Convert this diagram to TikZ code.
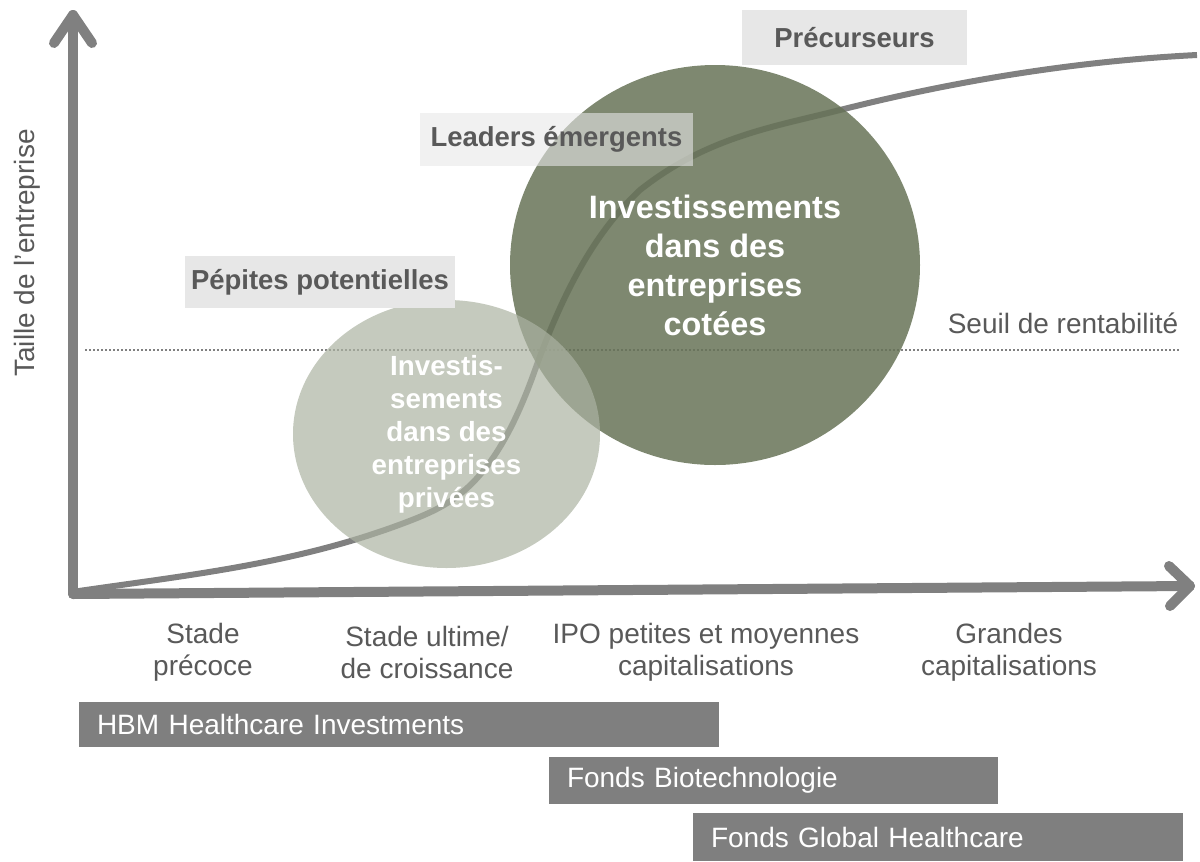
\documentclass[tikz,border=0pt]{standalone}
\usepackage{fontspec}
\setmainfont{Liberation Sans}
\usetikzlibrary{shapes.geometric}
\definecolor{axgray}{RGB}{128,128,128}
\definecolor{bargray}{RGB}{127,127,127}
\definecolor{boxgray}{RGB}{231,231,231}
\definecolor{txtgray}{RGB}{89,89,89}
\definecolor{darkgreen}{RGB}{103,115,87}
\definecolor{lightgreen}{RGB}{172,179,162}
\tikzset{
  axisline/.style={draw=axgray, line width=7.5pt, line cap=round, line join=round},
  sizecurve/.style={draw=axgray, line width=4.5pt},
  lbl/.style={text=txtgray, font=\fontsize{21}{24}\selectfont, align=center, inner sep=0pt},
  tagbox/.style={fill=boxgray, text=txtgray, font=\bfseries\fontsize{20.6}{24}\selectfont, inner sep=0pt},
  fundbar/.style={fill=bargray, text=white, font=\fontsize{21}{24}\selectfont, align=left, inner xsep=13.5pt, inner ysep=0pt},
  blob/.style={ellipse, inner sep=0pt, text=white, text opacity=1, align=center},
}
\begin{document}
\begin{tikzpicture}[x=0.75pt, y=-0.75pt]
\useasboundingbox (0,0) rectangle (1200,861);
% threshold line
\coordinate (th1) at (85,350);
\coordinate (th2) at (1180,350);
\draw[axgray, line width=1.1pt, dash pattern=on 1.2pt off 1.8pt] (th1) -- (th2);
% size curve
\coordinate (c0) at (72,592);
\coordinate (c1) at (417,518);
\coordinate (c2) at (535,370);
\coordinate (c3) at (640,190);
\coordinate (c4) at (840,110);
\coordinate (c5) at (1197,55);
\draw[sizecurve] (c0) .. controls (187,575) and (302,564) .. (c1)
  .. controls (456,502) and (496,480) .. (c2)
  .. controls (570,272) and (605,223) .. (c3)
  .. controls (707,137) and (773,127) .. (c4)
  .. controls (959,80) and (1078,61) .. (c5);
% axes
\coordinate (orig) at (73,594);
\coordinate (ytop) at (73,15);
\coordinate (xend) at (1190,586);
\draw[axisline] (orig) -- (ytop);
\draw[axisline] (54,43) -- (ytop) -- (92,43);
\draw[axisline] (orig) -- (xend);
\draw[axisline] (1169,566) -- (xend) -- (1170,606);
% circles
\node[blob, fill=darkgreen, fill opacity=0.85, minimum width=307.5pt, minimum height=300pt,
      font=\bfseries\fontsize{24.3}{29.25}\selectfont] (listed) at (715,265)
  {Investissements\\dans des\\entreprises\\cotées};
\node[blob, fill=lightgreen, fill opacity=0.7, minimum width=230.25pt, minimum height=201pt,
      font=\bfseries\fontsize{20.8}{24.75}\selectfont] (private) at (446.5,434)
  {Investis-\\sements\\dans des\\entreprises\\privées};
% tags
\node[tagbox, minimum width=168.75pt, minimum height=41.25pt] (prec) at (854.5,37.5) {Précurseurs};
\node[tagbox, fill opacity=0.6, text opacity=1, minimum width=204.75pt, minimum height=39.75pt] (lead) at (556.5,139.5) {Leaders émergents};
\node[tagbox, minimum width=202.5pt, minimum height=39pt] (pep) at (320,282) {Pépites potentielles};
% labels
\node[lbl] (seuil) at (1063,323) {Seuil de rentabilité};
\node[lbl, rotate=90] (ylab) at (27,253) {Taille de l'entreprise};
\node[lbl] (s1) at (203,652) {Stade\\précoce};
\node[lbl] (s2) at (427,652) {Stade ultime/\\de croissance};
\node[lbl] (s3) at (706,652) {IPO petites et moyennes\\capitalisations};
\node[lbl] (s4) at (1009,652) {Grandes\\capitalisations};
% funds
\node[fundbar, text width=453pt, minimum height=33.75pt] (hbm) at (399,724.5) {HBM Healthcare Investments};
\node[fundbar, text width=309.75pt, minimum height=35.25pt] (bio) at (773.5,780.5) {Fonds Biotechnologie};
\node[fundbar, text width=340.5pt, minimum height=36pt] (glob) at (938,837) {Fonds Global Healthcare};
\end{tikzpicture}
\end{document}
